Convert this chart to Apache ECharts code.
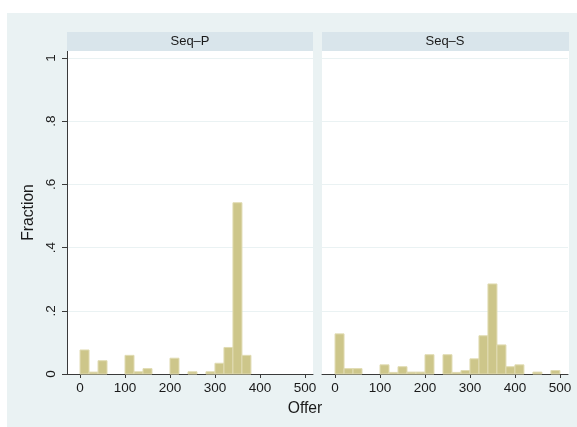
<!DOCTYPE html>
<html>
<head>
<meta charset="utf-8">
<script src="https://cdn.jsdelivr.net/npm/echarts@6/dist/echarts.min.js"></script>
<style>
html, body { margin: 0; padding: 0; background: #fff; }
#main { width: 577px; height: 427px; }
</style>
</head>
<body>
<div id="main"></div>
<script>
// histogram data, bins of width 20 starting at 0
var panels = ['Seq–P', 'Seq–S'];
var binWidth = 20;
var binStarts = [0, 20, 40, 60, 80, 100, 120, 140, 160, 180, 200, 220, 240,
                 260, 280, 300, 320, 340, 360, 380, 400, 420, 440, 460, 480];
var fracP = [0.076, 0.006, 0.042, 0, 0, 0.059, 0.007, 0.017, 0, 0, 0.050, 0, 0.007,
             0, 0.007, 0.034, 0.084, 0.542, 0.059, 0, 0, 0, 0, 0, 0];
var fracS = [0.127, 0.017, 0.017, 0, 0, 0.029, 0.005, 0.023, 0.006, 0.006, 0.061, 0, 0.061,
             0.005, 0.011, 0.048, 0.121, 0.285, 0.092, 0.023, 0.029, 0, 0.006, 0, 0.011];
var xTicks = [0, 100, 200, 300, 400, 500];
var yTicks = [0, 0.2, 0.4, 0.6, 0.8, 1];
var yTickLabels = ['0', '.2', '.4', '.6', '.8', '1'];

var chart = echarts.init(document.getElementById('main'), null, {renderer: 'canvas'});

var FONT = '"Liberation Sans", Arial, Helvetica, sans-serif';
var AXIS_COLOR = '#3a3a3a';
var GRID_COLOR = '#eaf2f3';
var BAR_FILL = '#cdc68a';
var BAR_EDGE = '#e0dbb2';

var plotTop = 58, plotHeight = 316, panelTop = 51;
var panelLeft = [67, 322], panelWidth = 246;

function binData(values) {
    var out = [];
    for (var i = 0; i < binStarts.length; i++) {
        if (values[i] > 0) out.push([binStarts[i], binStarts[i] + binWidth, values[i]]);
    }
    return out;
}

function renderBar(params, api) {
    var topLeft = api.coord([api.value(0), api.value(2)]);
    var bottomRight = api.coord([api.value(1), 0]);
    return {
        type: 'rect',
        shape: {
            x: topLeft[0],
            y: topLeft[1],
            width: bottomRight[0] - topLeft[0],
            height: bottomRight[1] - topLeft[1]
        },
        style: {fill: BAR_FILL, stroke: BAR_EDGE, lineWidth: 1}
    };
}

function yLabel(v) {
    for (var i = 0; i < yTicks.length; i++) {
        if (Math.abs(yTicks[i] - v) < 1e-9) return yTickLabels[i];
    }
    return '';
}

function xAxisFor(idx) {
    return {
        type: 'value', gridIndex: idx, min: -29, max: 518,
        axisLine: {show: true, onZero: false, lineStyle: {color: AXIS_COLOR, width: 1}},
        axisTick: {show: true, length: 4, customValues: xTicks, lineStyle: {color: AXIS_COLOR}},
        axisLabel: {show: true, customValues: xTicks, margin: 7, color: '#1a1a1a',
                    fontSize: 13.5, fontFamily: FONT},
        splitLine: {show: false}
    };
}

function yAxisFor(idx) {
    var first = idx === 0;
    return {
        type: 'value', gridIndex: idx, min: 0, max: 1, interval: 0.2,
        axisLine: {show: first, onZero: false, lineStyle: {color: AXIS_COLOR, width: 1}},
        axisTick: {show: first, length: 5, lineStyle: {color: AXIS_COLOR}},
        axisLabel: {show: first, rotate: 90, margin: 9, color: '#1a1a1a',
                    fontSize: 13.5, fontFamily: FONT, formatter: yLabel},
        splitLine: {show: true, lineStyle: {color: GRID_COLOR, width: 1}}
    };
}

var graphics = [
    {type: 'rect', z: -100, shape: {x: 7, y: 13, width: 570, height: 414}, style: {fill: '#eaf2f3'}}
];
panels.forEach(function (name, i) {
    graphics.push({type: 'rect', z: -90,
        shape: {x: panelLeft[i], y: panelTop, width: panelWidth + i, height: plotTop + plotHeight - panelTop},
        style: {fill: '#ffffff'}});
    graphics.push({type: 'rect', z: -90,
        shape: {x: panelLeft[i], y: 32, width: panelWidth + i, height: 19},
        style: {fill: '#d9e5eb'}});
    graphics.push({type: 'text', z: 10, x: panelLeft[i] + panelWidth / 2, y: 41.5,
        style: {text: name, fill: '#1a1a1a', font: '13px ' + FONT, align: 'center', verticalAlign: 'middle'}});
});
// left axis line runs up to the strip
graphics.push({type: 'line', z: 10,
    shape: {x1: 67.5, y1: panelTop, x2: 67.5, y2: plotTop + plotHeight},
    style: {stroke: AXIS_COLOR, lineWidth: 1}});
graphics.push({type: 'text', z: 10, x: 29, y: 212.5, rotation: Math.PI / 2,
    style: {text: 'Fraction', fill: '#1a1a1a', font: '15.7px ' + FONT, align: 'center', verticalAlign: 'middle'}});
graphics.push({type: 'text', z: 10, x: 305, y: 409,
    style: {text: 'Offer', fill: '#1a1a1a', font: '15.7px ' + FONT, align: 'center', verticalAlign: 'middle'}});

var option = {
    backgroundColor: '#ffffff',
    animation: false,
    graphic: graphics,
    grid: [
        {left: panelLeft[0], top: plotTop, width: panelWidth, height: plotHeight},
        {left: panelLeft[1], top: plotTop, width: panelWidth, height: plotHeight}
    ],
    xAxis: [xAxisFor(0), xAxisFor(1)],
    yAxis: [yAxisFor(0), yAxisFor(1)],
    series: [
        {type: 'custom', name: panels[0], xAxisIndex: 0, yAxisIndex: 0,
         encode: {x: [0, 1], y: 2}, renderItem: renderBar, data: binData(fracP)},
        {type: 'custom', name: panels[1], xAxisIndex: 1, yAxisIndex: 1,
         encode: {x: [0, 1], y: 2}, renderItem: renderBar, data: binData(fracS)}
    ]
};

chart.setOption(option);
</script>
</body>
</html>
